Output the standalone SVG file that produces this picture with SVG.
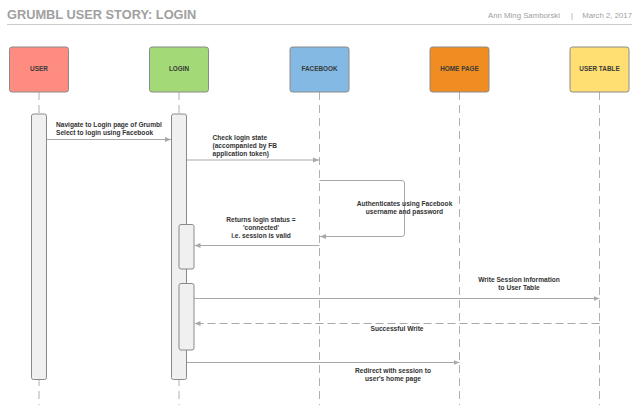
<svg xmlns="http://www.w3.org/2000/svg" width="640" height="411" viewBox="0 0 640 411">
<defs>
<marker id="ah" markerWidth="7" markerHeight="6" refX="6" refY="3" orient="auto" markerUnits="userSpaceOnUse">
<path d="M0,0.5 L6,3 L0,5.5 Z" fill="#a8a8a8"/>
</marker>
</defs>
<style>
.hdr{font-family:"Liberation Sans",Arial,sans-serif;fill:#a0a0a0}
.box{stroke:#8a8a8a;stroke-width:1}
.nl{font-family:"Liberation Sans",Arial,sans-serif;font-weight:bold;font-size:6.4px;fill:#3a3a3a;text-anchor:middle}
.life{stroke:#b0b0b0;stroke-width:1;stroke-dasharray:8,5;fill:none}
.act{fill:#f0f0f0;stroke:#8a8a8a;stroke-width:1}
.msg{stroke:#a8a8a8;stroke-width:1;fill:none;marker-end:url(#ah)}
.ret{stroke:#a8a8a8;stroke-width:1;fill:none;stroke-dasharray:8,4;marker-end:url(#ah)}
.ml{font-family:"Liberation Sans",Arial,sans-serif;font-weight:bold;font-size:6.6px;fill:#333}
.c{text-anchor:middle}
</style>
<rect width="640" height="411" fill="#ffffff"/>
<g id="header">
<text class="hdr" x="7" y="18.5" font-size="12.8" font-weight="bold">GRUMBL USER STORY: LOGIN</text>
<text class="hdr" x="560" y="17.5" font-size="7.8" text-anchor="end">Ann Ming Samborski</text>
<text class="hdr" x="572" y="17.5" font-size="7.8" text-anchor="middle">|</text>
<text class="hdr" x="632" y="17.5" font-size="7.8" text-anchor="end">March 2, 2017</text>
<line x1="7" y1="24.5" x2="632" y2="24.5" stroke="#cccccc" stroke-width="1"/>
</g>
<g id="lifelines">
<line class="life" x1="39" y1="92" x2="39" y2="405"/>
<line class="life" x1="179" y1="92" x2="179" y2="405"/>
<line class="life" x1="319.5" y1="92" x2="319.5" y2="405"/>
<line class="life" x1="459.5" y1="92" x2="459.5" y2="405"/>
<line class="life" x1="599.5" y1="92" x2="599.5" y2="405"/>
</g>
<g id="user">
<rect class="box" x="9.5" y="47" width="59" height="45" rx="2.5" fill="#ff8c80"/>
<text class="nl" x="39" y="70.5">USER</text>
<rect class="act" x="31.5" y="114" width="15" height="265.5" rx="2"/>
</g>
<g id="login">
<rect class="box" x="149.5" y="47" width="59" height="45" rx="2.5" fill="#a3d977"/>
<text class="nl" x="179" y="70.5">LOGIN</text>
<rect class="act" x="171.5" y="114" width="15" height="265.5" rx="2"/>
<rect class="act" x="179" y="224.5" width="15" height="44.5" rx="2"/>
<rect class="act" x="179" y="283.5" width="15" height="66.5" rx="2"/>
</g>
<g id="facebook">
<rect class="box" x="290" y="47" width="59" height="45" rx="2.5" fill="#83b9e3"/>
<text class="nl" x="319.5" y="70.5">FACEBOOK</text>
</g>
<g id="homepage">
<rect class="box" x="430" y="47" width="59" height="45" rx="2.5" fill="#ef8d22"/>
<text class="nl" x="459.5" y="70.5">HOME PAGE</text>
</g>
<g id="usertable">
<rect class="box" x="570" y="47" width="59" height="45" rx="2.5" fill="#ffdf71"/>
<text class="nl" x="599.5" y="70.5">USER TABLE</text>
</g>
<g id="connectors">
<line class="msg" x1="47" y1="139.5" x2="171" y2="139.5"/>
<text class="ml" x="56" y="127">Navigate to Login page of Grumbl</text>
<text class="ml" x="56" y="135">Select to login using Facebook</text>

<line class="msg" x1="187" y1="160" x2="319" y2="160"/>
<text class="ml" x="212.5" y="139.5">Check login state</text>
<text class="ml" x="212.5" y="147.5">(accompanied by FB</text>
<text class="ml" x="212.5" y="155.5">application token)</text>

<path class="msg" d="M319.5,180.5 H402 Q404.5,180.5 404.5,183 V234 Q404.5,236.5 402,236.5 H320"/>
<text class="ml c" x="404.5" y="205.5">Authenticates using Facebook</text>
<text class="ml c" x="404.5" y="213.5">username and password</text>

<line class="msg" x1="319.5" y1="245.5" x2="194.5" y2="245.5"/>
<text class="ml c" x="261" y="221.5">Returns login status =</text>
<text class="ml c" x="261" y="229.5">'connected'</text>
<text class="ml c" x="261" y="237.5">i.e. session is valid</text>

<line class="msg" x1="194" y1="298.5" x2="599.5" y2="298.5"/>
<text class="ml c" x="519" y="281.5">Write Session information</text>
<text class="ml c" x="519" y="289.5">to User Table</text>

<line class="ret" x1="599.5" y1="323.5" x2="194.5" y2="323.5"/>
<text class="ml c" x="397" y="330.5">Successful Write</text>

<line class="msg" x1="187" y1="362.5" x2="459.5" y2="362.5"/>
<text class="ml c" x="393" y="373">Redirect with session to</text>
<text class="ml c" x="393" y="381">user's home page</text>
</g>
</svg>
